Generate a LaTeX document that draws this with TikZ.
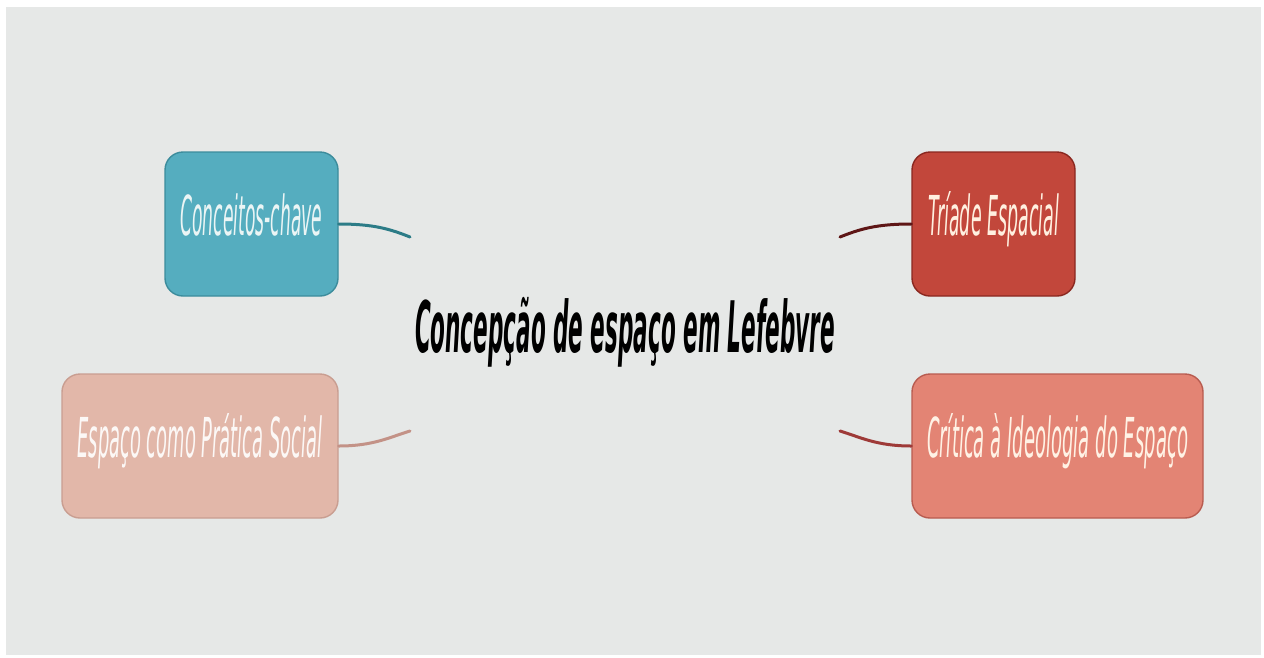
\documentclass[tikz,border=0pt]{standalone}
\usepackage{fontspec}
\usepackage{graphicx}
\newfontfamily\hand{DejaVu Sans}
\definecolor{bgc}{HTML}{E6E8E7}
\definecolor{tealf}{HTML}{55ADBF}
\definecolor{teald}{HTML}{3C8C9C}
\definecolor{tealc}{HTML}{2C7C87}
\definecolor{redf}{HTML}{C2473B}
\definecolor{redd}{HTML}{8A2820}
\definecolor{redc}{HTML}{5E1616}
\definecolor{pinkf}{HTML}{E2B7A9}
\definecolor{pinkd}{HTML}{C99E91}
\definecolor{pinkc}{HTML}{C39287}
\definecolor{salf}{HTML}{E38474}
\definecolor{sald}{HTML}{B85C50}
\definecolor{salc}{HTML}{9E3A38}
\tikzset{
  box/.style={rounded corners=18pt, minimum height=144pt, inner sep=0pt,
    text height=42pt, text depth=20pt, line width=1.4pt, align=center},
  conn/.style={line width=3pt, line cap=round},
}
\newcommand{\boxtext}[2]{\resizebox{#1}{\height}{\fontsize{55}{55}\selectfont\hand\itshape #2}}
\begin{document}
\begin{tikzpicture}[x=1pt,y=-1pt]
\useasboundingbox (0,0) rectangle (1264,657);
\fill[white] (0,0) rectangle (1264,657);
\fill[bgc] (6,7) rectangle (1261,655);
% boxes
\node[box, fill=tealf, draw=teald, minimum width=173pt, text=white!92!teal] (cc) at (251.5,224) {\boxtext{142pt}{Conceitos-chave}};
\node[box, fill=pinkf, draw=pinkd, minimum width=276pt, text=white!90!pinkf] (ep) at (200,446) {\boxtext{245pt}{Espaço como Prática Social}};
\node[box, fill=redf, draw=redd, minimum width=163pt, text=white!88!orange] (te) at (993.5,224) {\boxtext{131pt}{Tríade Espacial}};
\node[box, fill=salf, draw=sald, minimum width=291pt, text=white!90!orange] (ci) at (1057.5,446) {\boxtext{261pt}{Crítica à Ideologia do Espaço}};
% title
\node[anchor=base, inner sep=0pt] (title) at (625,352) {\resizebox{420pt}{\height}{\fontsize{71}{71}\selectfont\hand\bfseries\itshape Concepção de espaço em Lefebvre}};
% free ends
\coordinate (ccend) at (410,237);
\coordinate (epend) at (410,431);
\coordinate (teend) at (840,237);
\coordinate (ciend) at (840,431);
% connectors
\draw[conn, tealc] (cc.east) .. controls ++(35,0) and (390,229) .. (ccend);
\draw[conn, pinkc] (ep.east) .. controls ++(35,0) and (390,437) .. (epend);
\draw[conn, redc] (te.west) .. controls ++(-35,0) and (860,229) .. (teend);
\draw[conn, salc] (ci.west) .. controls ++(-35,0) and (860,437) .. (ciend);
\end{tikzpicture}
\end{document}
